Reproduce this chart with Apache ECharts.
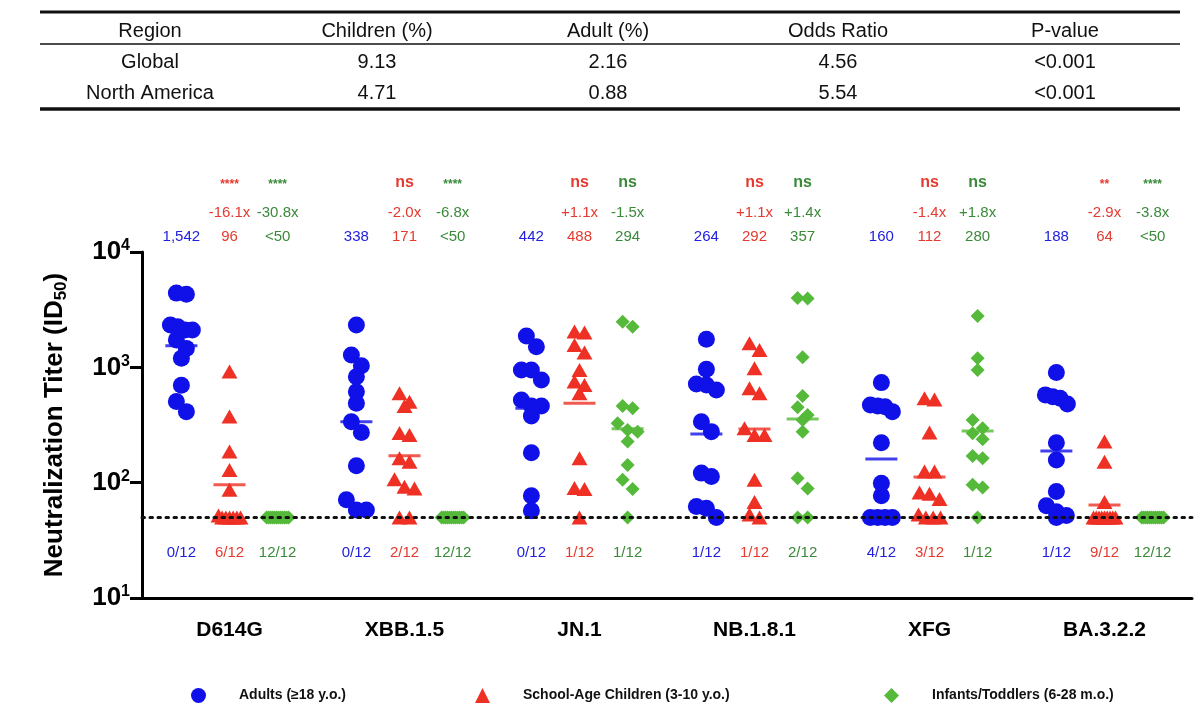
<!DOCTYPE html>
<html>
<head>
<meta charset="utf-8">
<script src="https://cdn.jsdelivr.net/npm/echarts@6/dist/echarts.min.js"></script>
<style>
  html, body { margin: 0; background: #fff; }
  #chart { width: 1200px; height: 716px; }
</style>
</head>
<body>
<div id="chart"></div>
<script>
// table above the chart
const tableHeader = ['Region', 'Children (%)', 'Adult (%)', 'Odds Ratio', 'P-value'];
const tableRows = [
  ['Global', '9.13', '2.16', '4.56', '<0.001'],
  ['North America', '4.71', '0.88', '5.54', '<0.001']
];

const variants = ['D614G', 'XBB.1.5', 'JN.1', 'NB.1.8.1', 'XFG', 'BA.3.2.2'];
const groups = ['Adults (≥18 y.o.)', 'School-Age Children (3-10 y.o.)', 'Infants/Toddlers (6-28 m.o.)'];

// ID50 titers, one array of 12 per variant
const adults = [
  [4400, 4300, 2330, 2250, 2110, 2110, 1730, 1460, 1200, 700, 505, 413],
  [2330, 1280, 1030, 830, 615, 488, 338, 272, 140, 71, 58, 58],
  [1870, 1510, 950, 950, 778, 521, 463, 463, 379, 182, 77, 57],
  [1750, 962, 718, 703, 637, 338, 277, 121, 113, 62, 60, 50],
  [737, 472, 463, 456, 413, 222, 99, 77, 50, 50, 50, 50],
  [900, 577, 557, 539, 482, 222, 157, 84, 63, 56, 52, 50]
];
const children = [
  [918, 374, 186, 129, 87, 52, 50, 50, 50, 50, 50, 50],
  [596, 504, 463, 270, 259, 163, 152, 107, 92, 89, 50, 50],
  [2050, 2000, 1564, 1342, 949, 752, 703, 596, 163, 90, 88, 50],
  [1618, 1416, 982, 658, 596, 296, 259, 259, 106, 68, 53, 50],
  [540, 525, 272, 125, 125, 82, 80, 72, 53, 50, 50, 50],
  [227, 152, 68, 50, 50, 50, 50, 50, 50, 50, 50, 50]
];
const infants = [
  [50, 50, 50, 50, 50, 50, 50, 50, 50, 50, 50, 50],
  [50, 50, 50, 50, 50, 50, 50, 50, 50, 50, 50, 50],
  [2490, 2250, 463, 442, 327, 286, 277, 227, 142, 106, 88, 50],
  [4000, 3950, 1220, 565, 451, 386, 350, 277, 109, 89, 50, 50],
  [2790, 1200, 949, 350, 296, 268, 238, 170, 163, 96, 91, 50],
  [50, 50, 50, 50, 50, 50, 50, 50, 50, 50, 50, 50]
];

// geometric mean titers (adults, children, infants)
const gmt = [[1542, 96, 50], [338, 171, 50], [442, 488, 294], [264, 292, 357], [160, 112, 280], [188, 64, 50]];
const gmtLabels = [
  ['1,542', '96', '<50'], ['338', '171', '<50'], ['442', '488', '294'],
  ['264', '292', '357'], ['160', '112', '280'], ['188', '64', '<50']
];
const foldChange = [
  ['-16.1x', '-30.8x'], ['-2.0x', '-6.8x'], ['+1.1x', '-1.5x'],
  ['+1.1x', '+1.4x'], ['-1.4x', '+1.8x'], ['-2.9x', '-3.8x']
];
const significance = [
  ['****', '****'], ['ns', '****'], ['ns', 'ns'],
  ['ns', 'ns'], ['ns', 'ns'], ['**', '****']
];
const belowLod = [
  ['0/12', '6/12', '12/12'], ['0/12', '2/12', '12/12'], ['0/12', '1/12', '1/12'],
  ['1/12', '1/12', '2/12'], ['4/12', '3/12', '1/12'], ['1/12', '9/12', '12/12']
];
const lod = 50;

const groupData = [adults, children, infants];
const groupShift = [-0.275, 0, 0.275];
const symbols = ['circle', 'triangle', 'diamond'];
const symbolSizes = [17, [16, 14], 14];
const markerColors = ['#1010e8', '#ee3124', '#55b93a'];
const textColors = ['#2020dd', '#e53a2f', '#3a8a3a'];

const font = '"Liberation Sans", Arial, sans-serif';
const gridLeft = 142, gridRight = 8, gridTop = 252, gridBottom = 118;
const pxPerUnit = (1200 - gridLeft - gridRight) / variants.length;
const pxPerDecade = (716 - gridTop - gridBottom) / 3;

// prism-like horizontal spread: points close in y share a row
function swarm(values) {
  const order = values.map((v, i) => i).sort((a, b) => values[b] - values[a]);
  const out = new Array(values.length).fill(0);
  let row = [];
  const flush = () => {
    const n = row.length;
    const step = n > 1 ? Math.min(10, 22 / (n - 1)) : 0;
    row.forEach((k, j) => { out[k] = (j - (n - 1) / 2) * step; });
    row = [];
  };
  order.forEach(k => {
    if (row.length && (Math.log10(values[row[0]]) - Math.log10(values[k])) * pxPerDecade > 11) flush();
    row.push(k);
  });
  flush();
  return out;
}

const chart = echarts.init(document.getElementById('chart'));

const pointSeries = groups.map((name, g) => {
  const data = [];
  groupData[g].forEach((vals, v) => {
    const off = swarm(vals);
    vals.forEach((val, i) => data.push([v + groupShift[g] + off[i] / pxPerUnit, val]));
  });
  return {
    name: name,
    type: 'scatter',
    xAxisIndex: 1,
    symbol: symbols[g],
    symbolSize: symbolSizes[g],
    itemStyle: { color: markerColors[g], opacity: 1 },
    z: 3,
    data: data
  };
});

const meanSeries = groups.map((name, g) => ({
  name: 'gmt' + g,
  type: 'scatter',
  xAxisIndex: 1,
  symbol: 'rect',
  symbolSize: [32, 3],
  itemStyle: { color: markerColors[g] },
  z: 4,
  silent: true,
  data: gmt.map((row, v) => [v + groupShift[g], row[g]])
}));

const lodSeries = {
  name: 'lod',
  type: 'scatter',
  xAxisIndex: 1,
  data: [],
  z: 1,
  markLine: {
    silent: true,
    symbol: 'none',
    label: { show: false },
    lineStyle: { color: '#111', type: [2.5, 5.5], width: 3, cap: 'round' },
    data: [{ yAxis: lod }]
  }
};

const option = {
  animation: false,
  textStyle: { fontFamily: font },
  grid: { left: gridLeft, right: gridRight, top: gridTop, bottom: gridBottom },
  legend: groups.map((name, g) => ({
    data: [name],
    left: [186, 470, 879][g],
    top: 683,
    itemWidth: 15,
    itemHeight: 15,
    selectedMode: false,
    textStyle: { fontSize: 14, fontWeight: 'bold', color: '#111', fontFamily: font, padding: [0, 0, 0, 28] }
  })),
  xAxis: [
    {
      type: 'category',
      data: variants,
      boundaryGap: true,
      axisLine: { lineStyle: { color: '#000', width: 3 } },
      axisTick: { alignWithLabel: true, length: 12, lineStyle: { color: '#000', width: 3 } },
      axisLabel: { fontSize: 21, fontWeight: 'bold', color: '#000', margin: 22, fontFamily: font }
    },
    { type: 'value', min: -0.5, max: 5.5, show: false }
  ],
  yAxis: {
    type: 'log',
    logBase: 10,
    min: 10,
    max: 10000,
    axisLine: { show: true, onZero: false, lineStyle: { color: '#000', width: 3 } },
    axisTick: { show: true, length: 12, lineStyle: { color: '#000', width: 3 } },
    minorTick: { show: false },
    splitLine: { show: false },
    axisLabel: {
      margin: 12,
      color: '#000',
      formatter: v => '{b|10}{s|' + Math.round(Math.log10(v)) + '}',
      rich: {
        b: { fontSize: 26, fontWeight: 'bold', color: '#000', fontFamily: font, lineHeight: 28 },
        s: { fontSize: 16, fontWeight: 'bold', color: '#000', fontFamily: font, verticalAlign: 'top', lineHeight: 17 }
      }
    },
    name: '{t|Neutralization Titer (ID}{u|50}{t|)}',
    nameLocation: 'middle',
    nameGap: 72,
    nameRotate: 90,
    nameTextStyle: {
      rich: {
        t: { fontSize: 26, fontWeight: 'bold', color: '#000', fontFamily: font, lineHeight: 30 },
        u: { fontSize: 17, fontWeight: 'bold', color: '#000', fontFamily: font, verticalAlign: 'bottom', lineHeight: 17 }
      }
    }
  },
  series: [lodSeries].concat(pointSeries, meanSeries)
};

chart.setOption(option);

// table and text annotations
const gfx = [];
const txt = (x, y, s, color, size, weight) => ({
  type: 'text', x: x, y: y, silent: true,
  style: { text: s, fill: color, fontSize: size, fontWeight: weight, fontFamily: font, align: 'center', verticalAlign: 'middle' }
});
const hline = (y, w) => ({
  type: 'line', silent: true,
  shape: { x1: 40, y1: y, x2: 1180, y2: y },
  style: { stroke: '#111', lineWidth: w }
});
gfx.push(hline(12, 3), hline(44, 1.5), hline(109, 3.5));
const colX = [150, 377, 608, 838, 1065];
const rowY = [31, 62, 93];
[tableHeader].concat(tableRows).forEach((row, r) => {
  row.forEach((s, c) => gfx.push(txt(colX[c], rowY[r], s, '#111', 20, 'normal')));
});

variants.forEach((name, v) => {
  [0, 1, 2].forEach(g => {
    const x = chart.convertToPixel({ xAxisIndex: 1 }, v + groupShift[g]);
    gfx.push(txt(x, 237, gmtLabels[v][g], textColors[g], 15, 'normal'));
    gfx.push(txt(x, 553, belowLod[v][g], textColors[g], 15, 'normal'));
    if (g > 0) {
      const sig = significance[v][g - 1];
      gfx.push(txt(x, sig === 'ns' ? 183 : 185, sig, textColors[g], sig === 'ns' ? 16 : 12, 'bold'));
      gfx.push(txt(x, 213, foldChange[v][g - 1], textColors[g], 15, 'normal'));
    }
  });
});

chart.setOption({ graphic: gfx });
</script>
</body>
</html>
